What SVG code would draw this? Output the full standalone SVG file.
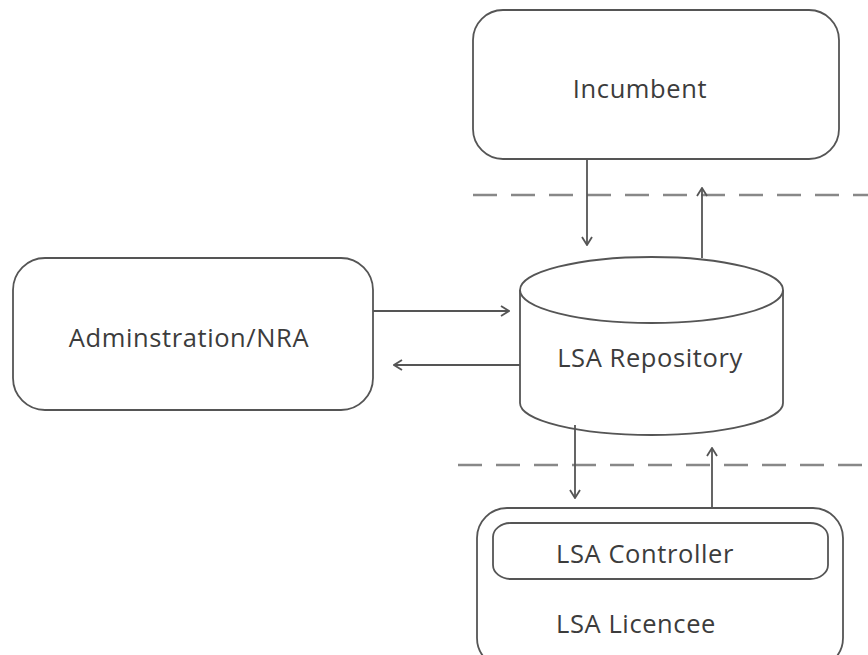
<svg xmlns="http://www.w3.org/2000/svg" width="868" height="655" viewBox="0 0 868 655">
<style>
.box{fill:#fff;stroke:#555;stroke-width:1.8}
.lbl{font-family:"Open Sans","Noto Sans",sans-serif;font-size:25.5px;fill:#3c3c3c;letter-spacing:0.6px}
.dash{stroke:#888;stroke-width:2.4;stroke-dasharray:24 14;fill:none}
.arr{stroke:#555;stroke-width:1.8;fill:none;marker-end:url(#ah)}
</style>
<defs>
<marker id="ah" viewBox="0 0 10 12" refX="9" refY="6" markerWidth="10" markerHeight="12" markerUnits="userSpaceOnUse" orient="auto">
<path d="M1,1 L9,6 L1,11" fill="none" stroke="#555" stroke-width="1.8"/>
</marker>
</defs>
<rect width="868" height="655" fill="#fff"/>
<g id="dividers">
<line class="dash" x1="473" y1="195" x2="868" y2="195"/>
<line class="dash" x1="458" y1="465" x2="868" y2="465"/>
</g>
<g id="incumbent">
<rect class="box" x="473" y="10" width="366" height="149" rx="30"/>
<text class="lbl" x="640" y="98" text-anchor="middle">Incumbent</text>
</g>
<g id="admin">
<rect class="box" x="13" y="258" width="360" height="152" rx="32"/>
<text class="lbl" x="189" y="347" text-anchor="middle">Adminstration/NRA</text>
</g>
<g id="repository">
<path class="box" d="M520,290 L520,403 A131.5,32 0 0 0 783,403 L783,290"/>
<ellipse class="box" cx="651.5" cy="290" rx="131.5" ry="33"/>
<text class="lbl" x="650" y="367" text-anchor="middle">LSA Repository</text>
</g>
<g id="licencee">
<rect class="box" x="477" y="508" width="366" height="160" rx="30"/>
<text class="lbl" x="556" y="633">LSA Licencee</text>
</g>
<g id="controller">
<rect class="box" x="493" y="523" width="335" height="56" rx="18" ry="14"/>
<text class="lbl" x="556" y="563">LSA Controller</text>
</g>
<g id="connectors">
<line class="arr" x1="587" y1="159" x2="587" y2="245"/>
<line class="arr" x1="702" y1="258" x2="702" y2="188"/>
<line class="arr" x1="373" y1="311" x2="509" y2="311"/>
<line class="arr" x1="520" y1="365" x2="394" y2="365"/>
<line class="arr" x1="575" y1="425" x2="575" y2="498"/>
<line class="arr" x1="712" y1="508" x2="712" y2="448"/>
</g>
</svg>
